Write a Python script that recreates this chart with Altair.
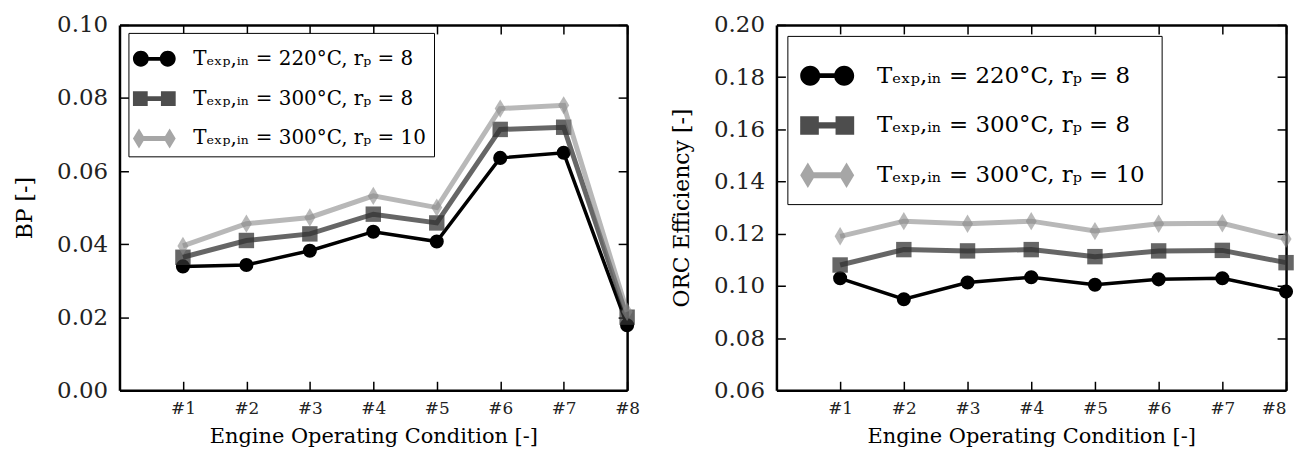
import altair as alt
import pandas as pd

# ---------------- data ----------------
conditions = [1, 2, 3, 4, 5, 6, 7, 8]
condition_labels = ["#1", "#2", "#3", "#4", "#5", "#6", "#7", "#8"]

series_names = [
    "Tₑₓₚ,ᵢₙ = 220°C, rₚ = 8",
    "Tₑₓₚ,ᵢₙ = 300°C, rₚ = 8",
    "Tₑₓₚ,ᵢₙ = 300°C, rₚ = 10",
]

bp_220_8 = [0.0339, 0.0343, 0.0382, 0.0434, 0.0407, 0.0636, 0.0650, 0.0178]
bp_300_8 = [0.0364, 0.0410, 0.0428, 0.0482, 0.0458, 0.0714, 0.0720, 0.0200]
bp_300_10 = [0.0395, 0.0456, 0.0473, 0.0532, 0.0500, 0.0771, 0.0780, 0.0215]

orc_220_8 = [0.1029, 0.0949, 0.1013, 0.1033, 0.1004, 0.1025, 0.1029, 0.0978]
orc_300_8 = [0.1080, 0.1139, 0.1134, 0.1139, 0.1112, 0.1134, 0.1136, 0.1089]
orc_300_10 = [0.1190, 0.1248, 0.1238, 0.1248, 0.1210, 0.1238, 0.1240, 0.1180]

bp_ticks = [0.0, 0.02, 0.04, 0.06, 0.08, 0.10]
orc_ticks = [0.06, 0.08, 0.10, 0.12, 0.14, 0.16, 0.18, 0.20]

# ---------------- styles ----------------
FONT = "DejaVu Serif"
colors = ["#000000", "#333333", "#888888"]
opacities = [1.0, 0.75, 0.6]
line_widths = [3.5, 5, 5]
thin_diamond = "M0,-1L0.6,0L0,1L-0.6,0Z"
point_shapes = ["circle", "square", thin_diamond]
point_sizes = [200, 240, 340]

legend_paths = [
    "M-1.13,0A0.42,0.42 0 1,1 -0.29,0A0.42,0.42 0 1,1 -1.13,0Z"
    "M0.29,0A0.42,0.42 0 1,1 1.13,0A0.42,0.42 0 1,1 0.29,0Z"
    "M-0.71,-0.1L0.71,-0.1L0.71,0.1L-0.71,0.1Z",
    "M-1.13,-0.39L-0.35,-0.39L-0.35,0.39L-1.13,0.39Z"
    "M0.35,-0.39L1.13,-0.39L1.13,0.39L0.35,0.39Z"
    "M-0.74,-0.13L0.74,-0.13L0.74,0.13L-0.74,0.13Z",
    "M-0.81,-0.53L-0.49,0L-0.81,0.53L-1.13,0Z"
    "M0.81,-0.53L1.13,0L0.81,0.53L0.49,0Z"
    "M-0.81,-0.13L0.81,-0.13L0.81,0.13L-0.81,0.13Z",
]

W_LEFT, W_RIGHT, H = 510, 512, 367
TICK = 9
FRAME = 2.5
label_expr = "[" + ",".join("'%s'" % s for s in condition_labels) + "][datum.value - 1]"


def make_panel(series_values, ydom, yticks, ytitle, width, flush, leg):
    frames = []
    for name, vals in zip(series_names, series_values):
        frames.append(pd.DataFrame({"cond": conditions, "value": vals, "series": name}))
    df = pd.concat(frames, ignore_index=True)

    xscale = alt.Scale(domain=[0, 8], nice=False, zero=False)
    yscale = alt.Scale(domain=ydom, nice=False, zero=False)

    main_x = alt.Axis(orient="bottom", values=conditions, labelExpr=label_expr,
                      ticks=False, domain=True, domainColor="black", domainWidth=FRAME,
                      grid=False,
                      labelFont=FONT, labelFontSize=17, labelColor="#222222",
                      labelPadding=10, labelFlush=flush, labelOverlap=False,
                      title="Engine Operating Condition [-]", titleFont=FONT,
                      titleFontSize=21, titleFontWeight="normal", titleColor="black",
                      titlePadding=9)
    main_y = alt.Axis(orient="left", values=yticks, format=".2f",
                      ticks=False, domain=True, domainColor="black", domainWidth=FRAME,
                      grid=False,
                      labelFont=FONT, labelFontSize=23, labelColor="#222222",
                      labelPadding=12, labelOverlap=False,
                      title=ytitle, titleFont=FONT, titleFontSize=22,
                      titleFontWeight="normal", titleColor="black", titlePadding=20)

    def tick_axes(xoff, yoff):
        ax = alt.Axis(orient="top", offset=xoff, values=conditions, labels=False,
                      domain=False, grid=False, ticks=True, tickSize=TICK,
                      tickWidth=1.5, tickColor="black", title=None)
        ay = alt.Axis(orient="right", offset=yoff, values=yticks, labels=False,
                      domain=False, grid=False, ticks=True, tickSize=TICK,
                      tickWidth=1.5, tickColor="black", title=None)
        return ax, ay

    layers = []
    for i, name in enumerate(series_names):
        sub = df[df["series"] == name]
        xa = main_x if i == 0 else None
        ya = main_y if i == 0 else None
        line = alt.Chart(sub).mark_line(color=colors[i], strokeWidth=line_widths[i],
                                        opacity=opacities[i]).encode(
            x=alt.X("cond:Q", scale=xscale, axis=xa),
            y=alt.Y("value:Q", scale=yscale, axis=ya),
        )
        pts = alt.Chart(sub).mark_point(shape=point_shapes[i], size=point_sizes[i],
                                        filled=True, color=colors[i],
                                        opacity=opacities[i], strokeWidth=0).encode(
            x=alt.X("cond:Q", scale=xscale, axis=None),
            y=alt.Y("value:Q", scale=yscale, axis=None),
        )
        layers += [line, pts]

    for xoff, yoff in [(-H, -width), (-TICK, -TICK)]:
        ax, ay = tick_axes(xoff, yoff)
        layers.append(
            alt.Chart(df).mark_point(opacity=0).encode(
                x=alt.X("cond:Q", scale=xscale, axis=ax),
                y=alt.Y("value:Q", scale=yscale, axis=ay),
            )
        )

    # top and right frame lines
    frame_x = alt.Axis(orient="top", offset=0, values=conditions, labels=False, ticks=False,
                       domain=True, domainColor="black", domainWidth=FRAME, grid=False,
                       title=None)
    frame_y = alt.Axis(orient="right", offset=0, values=yticks, labels=False, ticks=False,
                       domain=True, domainColor="black", domainWidth=FRAME, grid=False,
                       title=None)
    layers.append(
        alt.Chart(df).mark_point(opacity=0).encode(
            x=alt.X("cond:Q", scale=xscale, axis=frame_x),
            y=alt.Y("value:Q", scale=yscale, axis=frame_y),
        )
    )

    legend = alt.Legend(orient="none", legendX=leg["x"], legendY=leg["y"], title=None,
                        labelFont=FONT, labelFontSize=leg["font"], labelColor="black",
                        symbolSize=leg["sym"] ** 2, rowPadding=leg["rowpad"],
                        padding=leg["pad"], labelOffset=leg["loff"], labelLimit=500,
                        strokeColor="black", fillColor="white", cornerRadius=0,
                        symbolStrokeWidth=0)
    leg_layer = alt.Chart(pd.DataFrame({"series": series_names})).transform_filter(
        "false").mark_point(filled=True, strokeWidth=0).encode(
        color=alt.Color("series:N", scale=alt.Scale(domain=series_names, range=colors), legend=legend),
        shape=alt.Shape("series:N", scale=alt.Scale(domain=series_names, range=legend_paths), legend=legend),
        opacity=alt.Opacity("series:N", scale=alt.Scale(domain=series_names, range=opacities), legend=legend),
    )
    layers.append(leg_layer)

    return alt.layer(*layers).resolve_axis(x="independent", y="independent").properties(
        width=width, height=H)


left = make_panel([bp_220_8, bp_300_8, bp_300_10], [0.0, 0.10], bp_ticks, "BP [-]",
                  W_LEFT, False,
                  {"x": 9, "y": 8, "font": 20, "sym": 38, "rowpad": 11, "pad": 7, "loff": 20})
right = make_panel([orc_220_8, orc_300_8, orc_300_10], [0.06, 0.20], orc_ticks,
                   "ORC Efficiency [-]", W_RIGHT, True,
                   {"x": 11, "y": 11, "font": 23, "sym": 48, "rowpad": 14, "pad": 16, "loff": 26})

chart = alt.hconcat(left, right, spacing=29).resolve_scale(
    x="independent", y="independent", color="independent",
    shape="independent", opacity="independent").properties(
    padding={"left": 5, "top": 4, "right": 0, "bottom": 0}
).configure_view(strokeWidth=0).configure_legend(
    strokeWidth=3).configure(background="white")

chart.save("out.html", embed_options={"renderer": "svg", "actions": False})
